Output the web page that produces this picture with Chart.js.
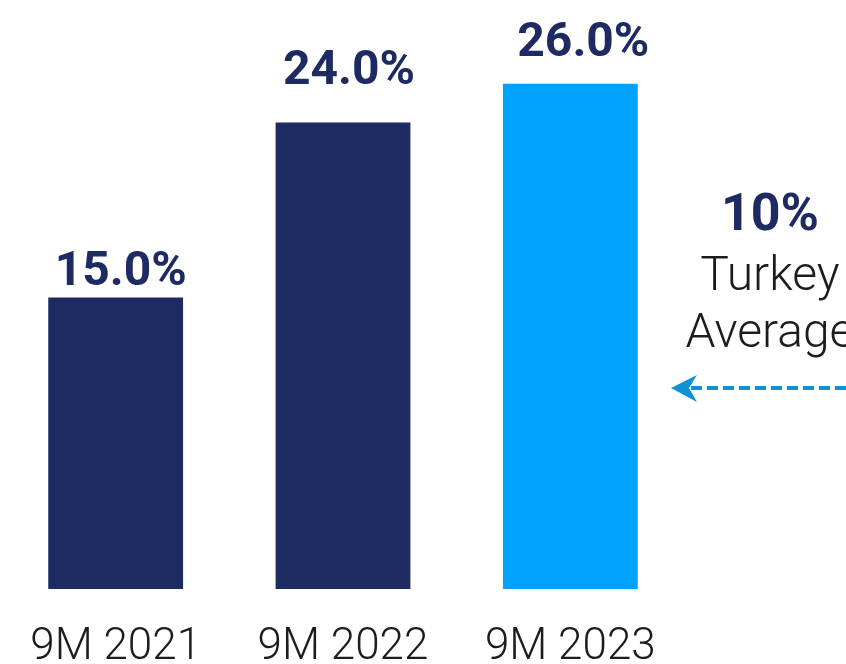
<!DOCTYPE html>
<html>
<head>
<meta charset="utf-8">
<script src="https://cdn.jsdelivr.net/npm/chart.js@4.4.1/dist/chart.umd.min.js"></script>
<style>
    html, body { margin: 0; padding: 0; background: #fff; }
    #contenedor { width: 846px; height: 664px; position: relative; overflow: hidden; }
</style>
</head>
<body>
<div id="contenedor"><canvas id="graficoMargen"></canvas></div>
<script>
const periodos = ['9M 2021', '9M 2022', '9M 2023'];
const valores = [15.0, 24.0, 26.0];
const coloresBarras = ['#1e2a62', '#1e2a62', '#00a1ff'];
const promedioTurquia = 10;
const textoPromedio = ['Turkey', 'Average'];

const AZUL_OSCURO = '#1e2a62';

// etiquetas de porcentaje encima de cada barra
const etiquetasValor = {
    id: 'etiquetasValor',
    afterDatasetsDraw(chart, args, opts) {
        const ctx = chart.ctx;
        const meta = chart.getDatasetMeta(0);
        ctx.save();
        ctx.font = 'bold 48px Roboto';
        ctx.fillStyle = AZUL_OSCURO;
        ctx.textAlign = 'center';
        ctx.textBaseline = 'alphabetic';
        meta.data.forEach((barra, i) => {
            const valor = chart.data.datasets[0].data[i];
            ctx.fillText(`${valor.toFixed(1)}%`, barra.x + opts.dx[i], barra.y - opts.separacion[i]);
        });
        ctx.restore();
    }
};

// bloque lateral con el promedio y la flecha punteada
const promedioPais = {
    id: 'promedioPais',
    afterDraw(chart) {
        const { ctx, chartArea, width } = chart;
        const cx = chartArea.right + 86;
        const yFlecha = 388;
        ctx.save();
        ctx.textAlign = 'center';
        ctx.textBaseline = 'alphabetic';
        ctx.fillStyle = AZUL_OSCURO;
        ctx.font = 'bold 52px Roboto';
        ctx.fillText(`${promedioTurquia}%`, cx, yFlecha - 158);
        ctx.fillStyle = '#1c1c1e';
        ctx.font = '300 48px Roboto';
        ctx.fillText(textoPromedio[0], cx, yFlecha - 98);
        ctx.fillText(textoPromedio[1], cx, yFlecha - 41);

        const punta = chartArea.right - 13;
        ctx.strokeStyle = '#0b93d6';
        ctx.fillStyle = '#0b93d6';
        ctx.lineWidth = 4;
        ctx.setLineDash([11, 5]);
        ctx.beginPath();
        ctx.moveTo(punta + 20, yFlecha);
        ctx.lineTo(width, yFlecha);
        ctx.stroke();
        ctx.setLineDash([]);
        ctx.beginPath();
        ctx.moveTo(punta, yFlecha);
        ctx.lineTo(punta + 26, yFlecha - 13);
        ctx.lineTo(punta + 18, yFlecha);
        ctx.lineTo(punta + 26, yFlecha + 14);
        ctx.closePath();
        ctx.fill();
        ctx.restore();
    }
};

new Chart(document.getElementById('graficoMargen').getContext('2d'), {
    type: 'bar',
    data: {
        labels: periodos,
        datasets: [{
            data: valores,
            backgroundColor: coloresBarras,
            borderWidth: 0,
            barPercentage: 0.593,
            categoryPercentage: 1
        }]
    },
    plugins: [etiquetasValor, promedioPais],
    options: {
        responsive: true,
        maintainAspectRatio: false,
        animation: false,
        layout: { padding: { left: 2, right: 162, top: 6, bottom: -34 } },
        plugins: {
            legend: { display: false },
            tooltip: { enabled: false },
            etiquetasValor: { dx: [5, 6, 13], separacion: [13, 39, 28] }
        },
        scales: {
            x: {
                grid: { display: false },
                border: { display: false },
                ticks: {
                    color: '#1c1c1e',
                    padding: 29,
                    font: { family: 'Roboto', size: 44, weight: 300, lineHeight: '43px' }
                }
            },
            y: {
                display: false,
                min: 0,
                max: 30
            }
        }
    }
});
</script>
</body>
</html>
